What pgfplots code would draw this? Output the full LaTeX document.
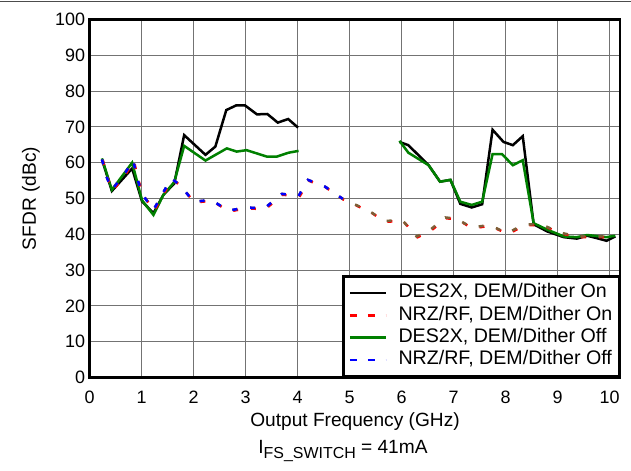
\documentclass[border=0pt]{standalone}
\usepackage{fontspec}
\setmainfont{Liberation Sans}
\usepackage{pgfplots}
\pgfplotsset{compat=1.18}
\definecolor{dgreen}{RGB}{0,128,0}
\definecolor{brn}{RGB}{125,95,55}
\definecolor{rd}{RGB}{255,0,0}
\definecolor{bl}{RGB}{0,0,255}

\pgfplotstableread{
x y
0.24 60.9
0.43 52.1
0.82 58.4
1.01 49.2
1.23 45.9
1.42 51.0
1.63 54.2
1.82 67.7
2.23 62.2
2.42 64.5
2.63 74.7
2.82 76.0
2.99 76.0
3.22 73.5
3.42 73.6
3.62 71.2
3.82 72.2
4.01 69.8
5.00 nan
5.96 65.8
6.13 64.9
6.52 59.3
6.74 54.7
6.94 55.2
7.13 48.5
7.35 47.5
7.55 48.4
7.75 69.2
7.96 65.8
8.14 64.9
8.33 67.4
8.54 42.8
8.80 40.8
9.12 39.2
9.37 38.8
9.57 39.6
9.76 38.9
9.94 38.2
10.11 39.4
}\desOn

\pgfplotstableread{
x y
0.24 61.2
0.43 52.4
0.82 60.0
1.01 49.5
1.23 45.4
1.42 51.0
1.63 54.6
1.82 64.7
2.23 60.6
2.64 64.0
2.83 63.1
3.02 63.5
3.41 61.7
3.60 61.7
3.83 62.8
4.02 63.3
5.00 nan
5.96 66.1
6.13 62.8
6.52 59.3
6.74 54.7
6.94 55.2
7.13 49.1
7.35 48.2
7.55 49.1
7.75 62.4
7.93 62.4
8.14 59.3
8.33 60.7
8.54 43.1
8.80 41.3
9.12 39.4
9.37 39.2
9.57 39.8
9.76 39.5
9.94 39.2
10.11 39.6
}\desOff

\pgfplotstableread{
x y
0.24 60.9
0.33 56.0
0.43 52.4
0.68 57.0
0.84 60.7
0.91 56.0
1.01 51.3
1.23 46.8
1.38 50.7
1.57 55.6
1.74 53.8
2.00 49.1
2.34 49.6
2.67 46.6
3.01 47.5
3.36 47.2
3.70 51.3
4.02 50.7
4.20 55.2
4.53 53.3
4.87 49.9
5.38 46.5
5.67 43.7
6.01 44.0
6.29 39.4
6.53 41.0
6.84 44.7
7.05 44.4
7.35 41.9
7.69 42.6
8.03 40.3
8.36 42.8
8.70 42.7
9.04 40.5
9.38 39.4
9.71 39.4
10.06 39.4
}\nrz

\begin{document}
\begin{tikzpicture}
\useasboundingbox (-89.5bp,-93.5bp) rectangle (541.5bp,377.5bp);
\fill[white] (-89.5bp,-93.5bp) rectangle (541.5bp,377.5bp);
\draw[black!70, line width=1bp] (-89.5bp,376bp) -- (541.5bp,376bp);
\begin{axis}[
  name=ax,
  at={(0,0)}, anchor=south west,
  scale only axis, width=530.5bp, height=358bp,
  xmin=0, xmax=10.2, ymin=0, ymax=100,
  xtick={0,1,...,10}, ytick={0,10,...,100},
  grid=major,
  major grid style={black!55, line width=1.1bp},
  axis line style={line width=2.5bp},
  major tick length=0pt,
  ticklabel style={font=\fontsize{18}{20}\selectfont},
  xticklabel style={yshift=-10bp},
  yticklabel style={xshift=-1bp},
  /pgf/number format/assume math mode=true,
  unbounded coords=jump,
  legend cell align=left,
  legend style={at={(rel axis cs:1,0)}, anchor=south east, draw=black,
    line width=2.5bp, fill=white, font=\fontsize{19.7}{21}\selectfont,
    inner xsep=5bp, inner ysep=5bp, row sep=0pt,
    nodes={inner sep=1.5bp, text height=14.6bp, text depth=4.8bp},
    /tikz/every odd column/.append style={column sep=10bp}},
  legend image code/.code={\draw[#1] (0bp,0bp) -- (36bp,0bp);},
]
\addplot[black, line width=2.5bp, forget plot] table[x=x,y=y] {\desOn};
\addplot[dgreen, line width=2.5bp, forget plot] table[x=x,y=y] {\desOff};
\addplot[rd, line width=2.5bp, dash pattern=on 5bp off 13bp, forget plot, transform canvas={xshift=0.8bp,yshift=-0.8bp}] table[x=x,y=y] {\nrz};
\addplot[brn, line width=2.5bp, dash pattern=on 5bp off 13bp, forget plot] table[x=x,y=y] {\nrz};
\addplot[bl, line width=2.5bp, dash pattern=on 5bp off 13bp, forget plot, restrict x to domain=0:4.9] table[x=x,y=y] {\nrz};
\addlegendimage{black, line width=2.5bp}
\addlegendentry{DES2X, DEM/Dither On}
\addlegendimage{rd, line width=2.5bp, dash pattern=on 7.5bp off 10.5bp}
\addlegendentry{NRZ/RF, DEM/Dither On}
\addlegendimage{dgreen, line width=2.5bp}
\addlegendentry{DES2X, DEM/Dither Off}
\addlegendimage{bl, line width=2.5bp, dash pattern=on 7.5bp off 10.5bp}
\addlegendentry{NRZ/RF, DEM/Dither Off}
\end{axis}
\node[rotate=90, font=\fontsize{19.2}{21}\selectfont] at (-58.5bp,179bp) {SFDR (dBc)};
\node[font=\fontsize{19.2}{21}\selectfont] at (265.5bp,-44.5bp) {Output Frequency (GHz)};
\node[font=\fontsize{19.2}{21}\selectfont] at (253.5bp,-73.5bp) {I\raisebox{-4.5bp}{\fontsize{16}{16}\selectfont FS\_SWITCH} = 41mA};
\end{tikzpicture}
\end{document}
